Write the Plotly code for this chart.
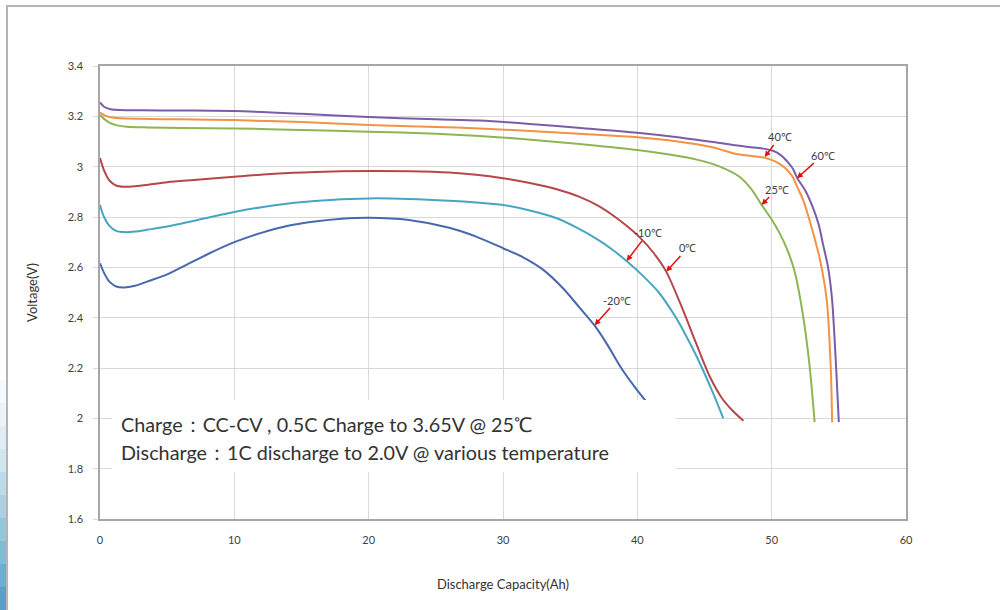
import plotly.graph_objects as go

# ---------------- data ----------------
temps = ["60℃", "40℃", "25℃", "0℃", "-10℃", "-20℃"]

x_60 = [0, 0.3, 0.8, 1.5, 3, 6, 10, 15, 20, 25, 28.25, 32, 36, 40, 43, 46, 48.1, 49.3, 50.1, 50.7,
        51.2, 51.6, 51.9, 52.5, 53.05, 53.5, 53.8, 54.2, 54.5, 54.8, 55.0]
y_60 = [3.255, 3.238, 3.228, 3.225, 3.224, 3.223, 3.221, 3.21, 3.197, 3.188, 3.183, 3.17, 3.153, 3.135,
        3.117, 3.095, 3.079, 3.072, 3.063, 3.045, 3.018, 2.99, 2.955, 2.905, 2.84, 2.77, 2.697, 2.6,
        2.47, 2.2, 1.985]

x_40 = [0, 0.3, 0.8, 1.5, 3, 6, 10, 15, 20, 25, 28.25, 32, 36, 40, 43, 45.5, 47.4, 48.5, 49.5, 50.3,
        51, 51.5, 51.9, 52.4, 52.8, 53.2, 53.6, 54.1, 54.4, 54.5]
y_40 = [3.215, 3.205, 3.196, 3.192, 3.19, 3.188, 3.185, 3.177, 3.166, 3.158, 3.152, 3.142, 3.13, 3.117,
        3.1, 3.078, 3.05, 3.042, 3.035, 3.02, 2.995, 2.965, 2.92, 2.86, 2.79, 2.715, 2.63, 2.47, 2.2,
        1.985]

x_25 = [0, 0.3, 0.7, 1.2, 2, 3.5, 6, 10, 15, 20, 25, 28.25, 31, 34, 37, 40, 42.5, 44.5, 46, 47.6,
        48.5, 49.25, 50, 50.6, 51.2, 51.7, 52.3, 52.8, 53.2]
y_25 = [3.205, 3.19, 3.175, 3.165, 3.159, 3.156, 3.154, 3.152, 3.146, 3.139, 3.131, 3.122, 3.112, 3.098,
        3.083, 3.066, 3.047, 3.027, 3.003, 2.96, 2.91, 2.848, 2.79, 2.735, 2.665, 2.585, 2.42, 2.22,
        1.985]

x_0 = [0, 0.3, 0.7, 1.2, 1.8, 2.6, 3.6, 5, 7, 10, 13, 16, 20, 23, 26, 28, 30, 32, 34, 35.7, 37, 38.2,
       39.2, 40.2, 41.2, 42.15, 43.4, 44.4, 45.4, 46.3, 47.1, 47.9]
y_0 = [3.034, 2.985, 2.945, 2.925, 2.92, 2.922, 2.928, 2.938, 2.947, 2.96, 2.972, 2.979, 2.983, 2.982,
       2.977, 2.968, 2.954, 2.935, 2.91, 2.88, 2.847, 2.806, 2.765, 2.718, 2.658, 2.583, 2.43, 2.295,
       2.165, 2.08, 2.03, 1.99]

x_m10 = [0, 0.3, 0.7, 1.2, 1.8, 2.6, 3.6, 5, 7, 10, 13, 16, 20, 23, 26, 28, 30, 32, 34, 35.7, 37,
         38.2, 39.2, 40.4, 41.6, 42.4, 43.1, 43.9, 44.6, 45.6, 46.4]
y_m10 = [2.848, 2.80, 2.765, 2.745, 2.74, 2.742, 2.75, 2.762, 2.785, 2.82, 2.847, 2.864, 2.874, 2.872,
         2.865, 2.858, 2.848, 2.826, 2.795, 2.752, 2.712, 2.668, 2.625, 2.567, 2.50, 2.44, 2.38, 2.30,
         2.225, 2.105, 2.0]

x_m20 = [0, 0.3, 0.7, 1.2, 1.8, 2.6, 3.6, 5, 6.5, 8, 10, 12, 14, 16, 18, 20, 23, 26, 28, 30, 31.5,
         33, 34.5, 35.7, 36.8, 37.8, 38.8, 39.8, 40.67]
y_m20 = [2.616, 2.578, 2.543, 2.524, 2.52, 2.527, 2.545, 2.572, 2.612, 2.652, 2.70, 2.737, 2.765, 2.782,
         2.793, 2.797, 2.788, 2.757, 2.722, 2.676, 2.64, 2.59, 2.515, 2.44, 2.37, 2.29, 2.2, 2.125,
         2.066]

# label arrow tips (on the curves) and label text positions
tip_x = [51.88, 49.48, 49.25, 42.15, 39.2, 36.82]
tip_y = [2.954, 3.038, 2.848, 2.583, 2.625, 2.37]
lab_x = [53.8, 50.6, 50.4, 43.75, 40.8, 38.5]
lab_y = [3.046, 3.118, 2.911, 2.677, 2.737, 2.47]

x_ticks = [0, 10, 20, 30, 40, 50, 60]
y_ticks = [1.6, 1.8, 2.0, 2.2, 2.4, 2.6, 2.8, 3.0, 3.2, 3.4]
y_ticktext = ["1.6", "1.8", "2", "2.2", "2.4", "2.6", "2.8", "3", "3.2", "3.4"]

note_lines = ["Charge：CC-CV , 0.5C Charge to 3.65V @ 25℃",
              "Discharge：1C discharge to 2.0V @ various temperature"]

# ---------------- figure ----------------
series = [(x_m20, y_m20, "#4668ad"), (x_m10, y_m10, "#46a6c2"), (x_0, y_0, "#b5474b"),
          (x_25, y_25, "#8db552"), (x_40, y_40, "#f39244"), (x_60, y_60, "#7b5ca8")]
names = ["-20℃", "-10℃", "0℃", "25℃", "40℃", "60℃"]

fig = go.Figure()
for (xs, ys, col), nm in zip(series, names):
    fig.add_trace(go.Scatter(x=xs, y=ys, mode="lines", name=nm,
                             line=dict(color=col, width=2, shape="spline", smoothing=0.8)))

font_main = "Lato, 'Open Sans', sans-serif"

# white box behind the note
fig.add_shape(type="rect", xref="paper", yref="paper",
              x0=(112 - 100) / 806, x1=(676 - 100) / 806,
              y0=(519 - 472) / 453, y1=(519 - 400) / 453,
              fillcolor="white", line=dict(width=0), layer="above")

for i, line in enumerate(note_lines):
    fig.add_annotation(xref="paper", yref="paper", x=(119 - 100) / 806,
                       y=(519 - (424 + 28 * i)) / 453, xanchor="left", yanchor="middle",
                       text=line, showarrow=False,
                       font=dict(family=font_main, size=19.8, color="#333333"))

for t, tx, ty, lx, ly in zip(temps, tip_x, tip_y, lab_x, lab_y):
    fig.add_annotation(x=tx, y=ty, ax=lx, ay=ly, axref="x", ayref="y",
                       text=t, showarrow=True, arrowhead=2, arrowsize=0.8,
                       arrowwidth=1.5, arrowcolor="#e01010", standoff=0,
                       font=dict(family=font_main, size=11, color="#404040"))

# outer frame of the image
fig.add_shape(type="rect", xref="paper", yref="paper",
              x0=(7 - 100) / 806, x1=(1010 - 100) / 806,
              y0=(519 - 620) / 453, y1=(519 - 6) / 453,
              line=dict(color="#b4b4b4", width=2), fillcolor="rgba(0,0,0,0)", layer="below")

# blue decorative strip on the lower left edge
n_seg = 10
for k in range(n_seg):
    top = 380 + k * 23
    alpha = 0.05 + 0.85 * (k / (n_seg - 1)) ** 1.3
    fig.add_shape(type="rect", xref="paper", yref="paper",
                  x0=(0 - 100) / 806, x1=(6 - 100) / 806,
                  y0=(519 - (top + 23)) / 453, y1=(519 - top) / 453,
                  fillcolor=f"rgba(70,150,190,{alpha:.2f})", line=dict(width=0), layer="below")

fig.update_layout(
    width=1000, height=610,
    margin=dict(l=100, r=94, t=66, b=91),
    paper_bgcolor="white", plot_bgcolor="white",
    showlegend=False,
    font=dict(family=font_main, color="#404040"),
    xaxis=dict(range=[0, 60], tickvals=x_ticks, showgrid=True, gridcolor="#d9d9d9",
               gridwidth=1, showline=True, linecolor="#a6a6a6", linewidth=1.5, mirror=True,
               zeroline=False, ticks="", ticklabelstandoff=10,
               tickfont=dict(size=11, color="#404040"),
               title=dict(text="Discharge Capacity(Ah)", font=dict(size=13, color="#333333"),
                          standoff=35)),
    yaxis=dict(range=[1.6, 3.4], tickvals=y_ticks, ticktext=y_ticktext, showgrid=True,
               gridcolor="#d9d9d9", gridwidth=1, showline=True, linecolor="#a6a6a6",
               linewidth=1.5, mirror=True, zeroline=False, ticks="outside", ticklen=5,
               tickcolor="#d9d9d9", ticklabelstandoff=8,
               tickfont=dict(size=11, color="#404040"),
               title=dict(text="Voltage(V)", font=dict(size=13, color="#333333"), standoff=27)),
)

fig.write_html("out.html")
